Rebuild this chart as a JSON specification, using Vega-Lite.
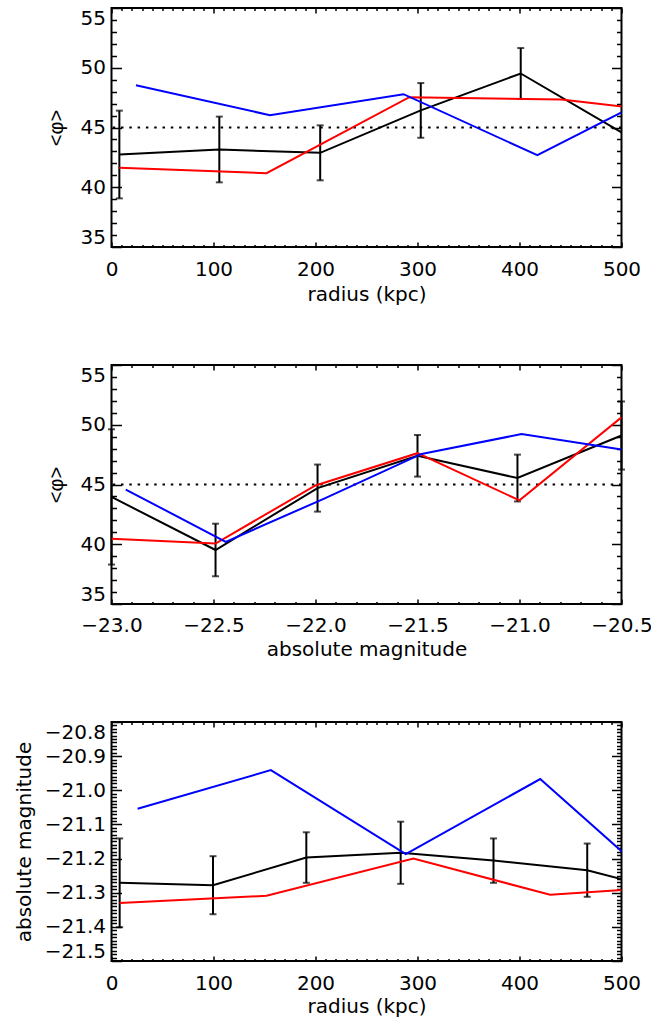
{
  "$schema": "https://vega.github.io/schema/vega-lite/v6.json",
  "padding": {"left": 12.5, "top": 6, "right": 0, "bottom": 0},
  "autosize": {"type": "pad"},
  "background": "white",
  "datasets": {
    "p1": [
      {"s": "black", "x": 7.7, "v": 42.74, "e": 3.67},
      {"s": "black", "x": 105.7, "v": 43.16, "e": 2.75},
      {"s": "black", "x": 204.6, "v": 42.88, "e": 2.3},
      {"s": "black", "x": 303.2, "v": 46.43, "e": 2.29},
      {"s": "black", "x": 401.2, "v": 49.52, "e": 2.13},
      {"s": "black", "x": 500, "v": 44.6},
      {"s": "red", "x": 7.7, "v": 41.63},
      {"s": "red", "x": 152, "v": 41.18},
      {"s": "red", "x": 292, "v": 47.54},
      {"s": "red", "x": 441, "v": 47.34},
      {"s": "red", "x": 585, "v": 45.95},
      {"s": "blue", "x": 24, "v": 48.54},
      {"s": "blue", "x": 155.3, "v": 46.03},
      {"s": "blue", "x": 286.3, "v": 47.79},
      {"s": "blue", "x": 417.5, "v": 42.68},
      {"s": "blue", "x": 549, "v": 48.4}
    ],
    "p2": [
      {"s": "black", "x": -23.0, "v": 43.96, "e": 5.66},
      {"s": "black", "x": -22.49, "v": 39.52, "e": 2.2},
      {"s": "black", "x": -21.99, "v": 44.7, "e": 1.97},
      {"s": "black", "x": -21.5, "v": 47.4, "e": 1.74},
      {"s": "black", "x": -21.01, "v": 45.54, "e": 1.96},
      {"s": "black", "x": -20.5, "v": 49.1, "e": 2.85},
      {"s": "red", "x": -23.0, "v": 40.47},
      {"s": "red", "x": -22.49, "v": 40.06},
      {"s": "red", "x": -22.0, "v": 44.92},
      {"s": "red", "x": -21.5, "v": 47.62},
      {"s": "red", "x": -21.0, "v": 43.67},
      {"s": "red", "x": -20.5, "v": 50.62},
      {"s": "blue", "x": -22.93, "v": 44.58},
      {"s": "blue", "x": -22.44, "v": 40.2},
      {"s": "blue", "x": -21.96, "v": 43.8},
      {"s": "blue", "x": -21.48, "v": 47.56},
      {"s": "blue", "x": -20.99, "v": 49.22},
      {"s": "blue", "x": -20.5, "v": 47.92}
    ],
    "p3": [
      {"s": "black", "x": 8, "v": -21.271, "e": 0.13},
      {"s": "black", "x": 99.5, "v": -21.278, "e": 0.085},
      {"s": "black", "x": 191, "v": -21.197, "e": 0.074},
      {"s": "black", "x": 283.5, "v": -21.183, "e": 0.091},
      {"s": "black", "x": 374.5, "v": -21.206, "e": 0.065},
      {"s": "black", "x": 466.4, "v": -21.234, "e": 0.078},
      {"s": "black", "x": 558, "v": -21.306},
      {"s": "red", "x": 8, "v": -21.33},
      {"s": "red", "x": 152, "v": -21.309},
      {"s": "red", "x": 296, "v": -21.2},
      {"s": "red", "x": 430, "v": -21.306},
      {"s": "red", "x": 574, "v": -21.277},
      {"s": "blue", "x": 25.6, "v": -21.054},
      {"s": "blue", "x": 156.2, "v": -20.941},
      {"s": "blue", "x": 288.5, "v": -21.187},
      {"s": "blue", "x": 420.3, "v": -20.967},
      {"s": "blue", "x": 552, "v": -21.316}
    ]
  },
  "vconcat": [
    {
      "width": 510, "height": 239,
      "data": {"name": "p1"},
      "layer": [
        {
          "data": {"values": [{"ref": 45}]},
          "mark": {"type": "rule", "strokeDash": [2.5, 5.8], "strokeWidth": 2, "color": "black"},
          "encoding": {
            "y": {"field": "ref", "type": "quantitative", "scale": {"domain": [35, 55], "nice": false, "zero": false},
              "axis": {"orient": "left", "values": [35, 40, 45, 50, 55], "tickSize": -10, "labelPadding": 16, "labelFlush": true, "labelFlushOffset": 0, "title": "<φ>", "titleFont": "Liberation Sans", "titlePadding": 14}}
          }
        },
        {
          "transform": [{"filter": "isValid(datum.e)"}],
          "mark": {"type": "errorbar", "ticks": {"size": 7}, "thickness": 2, "color": "black"},
          "encoding": {
            "x": {"field": "x", "type": "quantitative", "scale": {"domain": [0, 500], "nice": false, "zero": false},
              "axis": {"orient": "bottom", "values": [0, 100, 200, 300, 400, 500], "tickSize": -5, "labelPadding": 17, "labelFlush": false, "title": "radius (kpc)", "titlePadding": 5}},
            "y": {"field": "v", "type": "quantitative", "scale": {"domain": [35, 55], "nice": false, "zero": false},
              "axis": {"orient": "left", "values": [36, 37, 38, 39, 41, 42, 43, 44, 46, 47, 48, 49, 51, 52, 53, 54], "tickSize": -5, "labels": false, "title": null}},
            "yError": {"field": "e"}
          }
        },
        {
          "transform": [{"filter": "datum.s === 'black'"}],
          "mark": {"type": "line", "color": "black", "strokeWidth": 2, "clip": true},
          "encoding": {
            "x": {"field": "x", "type": "quantitative", "scale": {"domain": [0, 500], "nice": false, "zero": false},
              "axis": {"orient": "bottom", "values": [10, 20, 30, 40, 50, 60, 70, 80, 90, 110, 120, 130, 140, 150, 160, 170, 180, 190, 210, 220, 230, 240, 250, 260, 270, 280, 290, 310, 320, 330, 340, 350, 360, 370, 380, 390, 410, 420, 430, 440, 450, 460, 470, 480, 490], "tickSize": -2.5, "labels": false, "title": null}},
            "y": {"field": "v", "type": "quantitative", "scale": {"domain": [35, 55], "nice": false, "zero": false},
              "axis": {"orient": "right", "values": [35, 40, 45, 50, 55], "tickSize": -10, "labels": false, "title": null}}
          }
        },
        {
          "transform": [{"filter": "datum.s === 'red'"}],
          "mark": {"type": "line", "color": "#ff0000", "strokeWidth": 2, "clip": true},
          "encoding": {
            "x": {"field": "x", "type": "quantitative", "scale": {"domain": [0, 500], "nice": false, "zero": false},
              "axis": {"orient": "top", "values": [0, 100, 200, 300, 400, 500], "tickSize": -5, "labels": false, "title": null}},
            "y": {"field": "v", "type": "quantitative", "scale": {"domain": [35, 55], "nice": false, "zero": false},
              "axis": {"orient": "right", "values": [36, 37, 38, 39, 41, 42, 43, 44, 46, 47, 48, 49, 51, 52, 53, 54], "tickSize": -5, "labels": false, "title": null}}
          }
        },
        {
          "transform": [{"filter": "datum.s === 'blue'"}],
          "mark": {"type": "line", "color": "#0000ff", "strokeWidth": 2, "clip": true},
          "encoding": {
            "x": {"field": "x", "type": "quantitative", "scale": {"domain": [0, 500], "nice": false, "zero": false},
              "axis": {"orient": "top", "values": [10, 20, 30, 40, 50, 60, 70, 80, 90, 110, 120, 130, 140, 150, 160, 170, 180, 190, 210, 220, 230, 240, 250, 260, 270, 280, 290, 310, 320, 330, 340, 350, 360, 370, 380, 390, 410, 420, 430, 440, 450, 460, 470, 480, 490], "tickSize": -2.5, "labels": false, "title": null}},
            "y": {"field": "v", "type": "quantitative", "scale": {"domain": [35, 55], "nice": false, "zero": false}, "axis": null}
          }
        }
      ],
      "resolve": {"axis": {"x": "independent", "y": "independent"}}
    },
    {
      "width": 510, "height": 239,
      "data": {"name": "p2"},
      "layer": [
        {
          "data": {"values": [{"ref": 45}]},
          "mark": {"type": "rule", "strokeDash": [2.5, 5.8], "strokeWidth": 2, "color": "black"},
          "encoding": {
            "y": {"field": "ref", "type": "quantitative", "scale": {"domain": [35, 55], "nice": false, "zero": false},
              "axis": {"orient": "left", "values": [35, 40, 45, 50, 55], "tickSize": -10, "labelPadding": 16, "labelFlush": true, "labelFlushOffset": 0, "title": "<φ>", "titleFont": "Liberation Sans", "titlePadding": 14}}
          }
        },
        {
          "transform": [{"filter": "isValid(datum.e)"}],
          "mark": {"type": "errorbar", "ticks": {"size": 7}, "thickness": 2, "color": "black"},
          "encoding": {
            "x": {"field": "x", "type": "quantitative", "scale": {"domain": [-23, -20.5], "nice": false, "zero": false},
              "axis": {"orient": "bottom", "values": [-23, -22.5, -22, -21.5, -21, -20.5], "format": ".1f", "tickSize": -5, "labelPadding": 16, "labelFlush": false, "title": "absolute magnitude", "titlePadding": 4}},
            "y": {"field": "v", "type": "quantitative", "scale": {"domain": [35, 55], "nice": false, "zero": false},
              "axis": {"orient": "left", "values": [36, 37, 38, 39, 41, 42, 43, 44, 46, 47, 48, 49, 51, 52, 53, 54], "tickSize": -5, "labels": false, "title": null}},
            "yError": {"field": "e"}
          }
        },
        {
          "transform": [{"filter": "datum.s === 'black'"}],
          "mark": {"type": "line", "color": "black", "strokeWidth": 2, "clip": true},
          "encoding": {
            "x": {"field": "x", "type": "quantitative", "scale": {"domain": [-23, -20.5], "nice": false, "zero": false},
              "axis": {"orient": "bottom", "values": [-22.9, -22.8, -22.7, -22.6, -22.4, -22.3, -22.2, -22.1, -21.9, -21.8, -21.7, -21.6, -21.4, -21.3, -21.2, -21.1, -20.9, -20.8, -20.7, -20.6], "tickSize": -2.5, "labels": false, "title": null}},
            "y": {"field": "v", "type": "quantitative", "scale": {"domain": [35, 55], "nice": false, "zero": false},
              "axis": {"orient": "right", "values": [35, 40, 45, 50, 55], "tickSize": -10, "labels": false, "title": null}}
          }
        },
        {
          "transform": [{"filter": "datum.s === 'red'"}],
          "mark": {"type": "line", "color": "#ff0000", "strokeWidth": 2, "clip": true},
          "encoding": {
            "x": {"field": "x", "type": "quantitative", "scale": {"domain": [-23, -20.5], "nice": false, "zero": false},
              "axis": {"orient": "top", "values": [-23, -22.5, -22, -21.5, -21, -20.5], "tickSize": -5, "labels": false, "title": null}},
            "y": {"field": "v", "type": "quantitative", "scale": {"domain": [35, 55], "nice": false, "zero": false},
              "axis": {"orient": "right", "values": [36, 37, 38, 39, 41, 42, 43, 44, 46, 47, 48, 49, 51, 52, 53, 54], "tickSize": -5, "labels": false, "title": null}}
          }
        },
        {
          "transform": [{"filter": "datum.s === 'blue'"}],
          "mark": {"type": "line", "color": "#0000ff", "strokeWidth": 2, "clip": true},
          "encoding": {
            "x": {"field": "x", "type": "quantitative", "scale": {"domain": [-23, -20.5], "nice": false, "zero": false},
              "axis": {"orient": "top", "values": [-22.9, -22.8, -22.7, -22.6, -22.4, -22.3, -22.2, -22.1, -21.9, -21.8, -21.7, -21.6, -21.4, -21.3, -21.2, -21.1, -20.9, -20.8, -20.7, -20.6], "tickSize": -2.5, "labels": false, "title": null}},
            "y": {"field": "v", "type": "quantitative", "scale": {"domain": [35, 55], "nice": false, "zero": false}, "axis": null}
          }
        }
      ],
      "resolve": {"axis": {"x": "independent", "y": "independent"}}
    },
    {
      "width": 510, "height": 239,
      "data": {"name": "p3"},
      "layer": [
        {
          "transform": [{"filter": "isValid(datum.e)"}],
          "mark": {"type": "errorbar", "ticks": {"size": 7}, "thickness": 2, "color": "black"},
          "encoding": {
            "x": {"field": "x", "type": "quantitative", "scale": {"domain": [0, 500], "nice": false, "zero": false},
              "axis": {"orient": "bottom", "values": [0, 100, 200, 300, 400, 500], "tickSize": -5, "labelPadding": 17, "labelFlush": false, "title": "radius (kpc)", "titlePadding": 3}},
            "y": {"field": "v", "type": "quantitative", "scale": {"domain": [-21.5, -20.8], "nice": false, "zero": false},
              "axis": {"orient": "left", "values": [-21.5, -21.4, -21.3, -21.2, -21.1, -21.0, -20.9, -20.8], "format": ".1f", "tickSize": -10, "labelPadding": 16, "labelFlush": true, "labelFlushOffset": 0, "title": "absolute magnitude", "titlePadding": 10}},
            "yError": {"field": "e"}
          }
        },
        {
          "transform": [{"filter": "datum.s === 'black'"}],
          "mark": {"type": "line", "color": "black", "strokeWidth": 2, "clip": true},
          "encoding": {
            "x": {"field": "x", "type": "quantitative", "scale": {"domain": [0, 500], "nice": false, "zero": false},
              "axis": {"orient": "bottom", "values": [10, 20, 30, 40, 50, 60, 70, 80, 90, 110, 120, 130, 140, 150, 160, 170, 180, 190, 210, 220, 230, 240, 250, 260, 270, 280, 290, 310, 320, 330, 340, 350, 360, 370, 380, 390, 410, 420, 430, 440, 450, 460, 470, 480, 490], "tickSize": -2.5, "labels": false, "title": null}},
            "y": {"field": "v", "type": "quantitative", "scale": {"domain": [-21.5, -20.8], "nice": false, "zero": false},
              "axis": {"orient": "left", "values": [-21.49, -21.48, -21.47, -21.46, -21.45, -21.44, -21.43, -21.42, -21.41, -21.39, -21.38, -21.37, -21.36, -21.35, -21.34, -21.33, -21.32, -21.31, -21.29, -21.28, -21.27, -21.26, -21.25, -21.24, -21.23, -21.22, -21.21, -21.19, -21.18, -21.17, -21.16, -21.15, -21.14, -21.13, -21.12, -21.11, -21.09, -21.08, -21.07, -21.06, -21.05, -21.04, -21.03, -21.02, -21.01, -20.99, -20.98, -20.97, -20.96, -20.95, -20.94, -20.93, -20.92, -20.91, -20.89, -20.88, -20.87, -20.86, -20.85, -20.84, -20.83, -20.82, -20.81], "tickSize": -5, "labels": false, "title": null}}
          }
        },
        {
          "transform": [{"filter": "datum.s === 'red'"}],
          "mark": {"type": "line", "color": "#ff0000", "strokeWidth": 2, "clip": true},
          "encoding": {
            "x": {"field": "x", "type": "quantitative", "scale": {"domain": [0, 500], "nice": false, "zero": false},
              "axis": {"orient": "top", "values": [0, 100, 200, 300, 400, 500], "tickSize": -5, "labels": false, "title": null}},
            "y": {"field": "v", "type": "quantitative", "scale": {"domain": [-21.5, -20.8], "nice": false, "zero": false},
              "axis": {"orient": "right", "values": [-21.5, -21.4, -21.3, -21.2, -21.1, -21.0, -20.9, -20.8], "tickSize": -10, "labels": false, "title": null}}
          }
        },
        {
          "transform": [{"filter": "datum.s === 'blue'"}],
          "mark": {"type": "line", "color": "#0000ff", "strokeWidth": 2, "clip": true},
          "encoding": {
            "x": {"field": "x", "type": "quantitative", "scale": {"domain": [0, 500], "nice": false, "zero": false},
              "axis": {"orient": "top", "values": [10, 20, 30, 40, 50, 60, 70, 80, 90, 110, 120, 130, 140, 150, 160, 170, 180, 190, 210, 220, 230, 240, 250, 260, 270, 280, 290, 310, 320, 330, 340, 350, 360, 370, 380, 390, 410, 420, 430, 440, 450, 460, 470, 480, 490], "tickSize": -2.5, "labels": false, "title": null}},
            "y": {"field": "v", "type": "quantitative", "scale": {"domain": [-21.5, -20.8], "nice": false, "zero": false},
              "axis": {"orient": "right", "values": [-21.49, -21.48, -21.47, -21.46, -21.45, -21.44, -21.43, -21.42, -21.41, -21.39, -21.38, -21.37, -21.36, -21.35, -21.34, -21.33, -21.32, -21.31, -21.29, -21.28, -21.27, -21.26, -21.25, -21.24, -21.23, -21.22, -21.21, -21.19, -21.18, -21.17, -21.16, -21.15, -21.14, -21.13, -21.12, -21.11, -21.09, -21.08, -21.07, -21.06, -21.05, -21.04, -21.03, -21.02, -21.01, -20.99, -20.98, -20.97, -20.96, -20.95, -20.94, -20.93, -20.92, -20.91, -20.89, -20.88, -20.87, -20.86, -20.85, -20.84, -20.83, -20.82, -20.81], "tickSize": -5, "labels": false, "title": null}}
          }
        }
      ],
      "resolve": {"axis": {"x": "independent", "y": "independent"}}
    }
  ],
  "spacing": 118,
  "bounds": "flush",
  "config": {
    "view": {"stroke": "black", "strokeWidth": 2},
    "axis": {"grid": false, "domain": false, "labelFont": "DejaVu Sans", "labelFontSize": 20, "labelColor": "black", "titleFont": "DejaVu Sans", "titleFontSize": 20, "titleFontWeight": "normal", "titleColor": "black", "tickColor": "black", "tickWidth": 1.5, "labelOverlap": false}
  }
}
